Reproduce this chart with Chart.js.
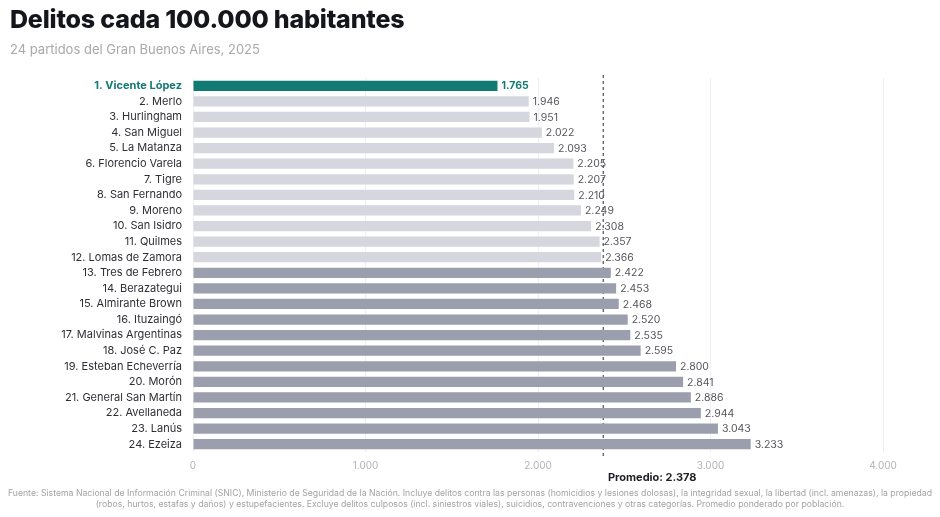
<!DOCTYPE html>
<html lang="es">
<head>
<meta charset="utf-8">
<script src="https://cdn.jsdelivr.net/npm/chart.js@4"></script>
<style>
  html, body { margin: 0; padding: 0; background: #fff; }
  body { width: 940px; height: 517px; position: relative; overflow: hidden; font-family: Inter, "Noto Sans", sans-serif; }
  #title { position: absolute; left: 10px; top: 4px; font-size: 25px; font-weight: 800; color: #15161c; letter-spacing: -0.2px; }
  #subtitle { position: absolute; left: 10px; top: 41px; font-size: 13px; color: #a9a9ad; }
  #wrap { position: absolute; left: 0; top: 0; width: 940px; height: 517px; }
  #footer { position: absolute; left: 0; top: 488px; width: 940px; text-align: center; font-size: 8.7px; line-height: 11px; color: #a3a3a8; }
</style>
</head>
<body>
<div id="wrap"><canvas id="chart"></canvas></div>
<div id="title">Delitos cada 100.000 habitantes</div>
<div id="subtitle">24 partidos del Gran Buenos Aires, 2025</div>
<div id="footer">Fuente: Sistema Nacional de Información Criminal (SNIC), Ministerio de Seguridad de la Nación. Incluye delitos contra las personas (homicidios y lesiones dolosas), la integridad sexual, la libertad (incl. amenazas), la propiedad<br>(robos, hurtos, estafas y daños) y estupefacientes. Excluye delitos culposos (incl. siniestros viales), suicidios, contravenciones y otras categorías. Promedio ponderado por población.</div>
<script>
// Data
const partidos = [
  "Vicente López", "Merlo", "Hurlingham", "San Miguel", "La Matanza",
  "Florencio Varela", "Tigre", "San Fernando", "Moreno", "San Isidro",
  "Quilmes", "Lomas de Zamora", "Tres de Febrero", "Berazategui",
  "Almirante Brown", "Ituzaingó", "Malvinas Argentinas", "José C. Paz",
  "Esteban Echeverría", "Morón", "General San Martín", "Avellaneda",
  "Lanús", "Ezeiza"
];
const delitos = [
  1765, 1946, 1951, 2022, 2093, 2205, 2207, 2210, 2249, 2308, 2357, 2366,
  2422, 2453, 2468, 2520, 2535, 2595, 2800, 2841, 2886, 2944, 3043, 3233
];
const promedio = 2378;
const xTicks = [0, 1000, 2000, 3000, 4000];

const TEAL = "#127a72";
const LIGHT = "#d5d6de";
const DARK = "#9b9ead";

function fmt(n) {
  return String(n).replace(/\B(?=(\d{3})+(?!\d))/g, ".");
}

const labels = partidos.map((p, i) => (i + 1) + ". " + p);
const colors = delitos.map((v, i) => (i === 0 ? TEAL : v < promedio ? LIGHT : DARK));

// Average line behind the bars, value labels on top
const extras = {
  id: "extras",
  beforeDatasetsDraw(chart) {
    const ctx = chart.ctx;
    const x = chart.scales.x.getPixelForValue(promedio);
    const area = chart.chartArea;
    ctx.save();
    ctx.strokeStyle = "#2b2b30";
    ctx.lineWidth = 1;
    ctx.setLineDash([3, 3]);
    ctx.beginPath();
    ctx.moveTo(x, area.top - 3);
    ctx.lineTo(x, area.bottom + 4);
    ctx.stroke();
    ctx.restore();
  },
  afterDatasetsDraw(chart) {
    const ctx = chart.ctx;
    const meta = chart.getDatasetMeta(0);
    const x = chart.scales.x.getPixelForValue(promedio);
    const area = chart.chartArea;
    ctx.save();
    ctx.textBaseline = "middle";
    ctx.textAlign = "left";
    meta.data.forEach((bar, i) => {
      ctx.font = (i === 0 ? "700 " : "400 ") + "10.5px Inter, sans-serif";
      ctx.fillStyle = i === 0 ? TEAL : "#55565c";
      ctx.fillText(fmt(delitos[i]), bar.x + 4, bar.y + 0.5);
    });

    ctx.font = "700 11px Inter, sans-serif";
    ctx.fillStyle = "#1d1d22";
    ctx.textAlign = "center";
    ctx.fillText("Promedio: " + fmt(promedio), x + 49, area.bottom + 26);
    ctx.restore();
  }
};

const ctx = document.getElementById("chart").getContext("2d");
new Chart(ctx, {
  type: "bar",
  data: {
    labels: labels,
    datasets: [{
      data: delitos,
      backgroundColor: colors,
      borderWidth: 0,
      barPercentage: 1,
      categoryPercentage: 0.66
    }]
  },
  options: {
    indexAxis: "y",
    responsive: true,
    maintainAspectRatio: false,
    animation: false,
    layout: { padding: { top: 78, right: 57, bottom: 35, left: 0 } },
    plugins: {
      legend: { display: false },
      tooltip: { enabled: false }
    },
    scales: {
      x: {
        min: 0,
        max: 4000,
        afterBuildTicks(scale) {
          scale.ticks = xTicks.map((v) => ({ value: v }));
        },
        afterFit(scale) { scale.height = 30; },
        grid: { color: "#efeff2", drawTicks: false },
        border: { display: false },
        ticks: {
          padding: 8,
          color: "#b3b3b8",
          font: { family: "Inter", size: 10 },
          callback: (v) => fmt(v)
        }
      },
      y: {
        afterFit(scale) { scale.width = 193; },
        grid: { display: false },
        border: { display: false },
        ticks: {
          padding: 3,
          autoSkip: false,
          color: (c) => (c.index === 0 ? TEAL : "#2e2f35"),
          font: (c) => ({ family: "Inter", size: 11, weight: c.index === 0 ? "700" : "400" })
        }
      }
    }
  },
  plugins: [extras]
});
</script>
</body>
</html>
